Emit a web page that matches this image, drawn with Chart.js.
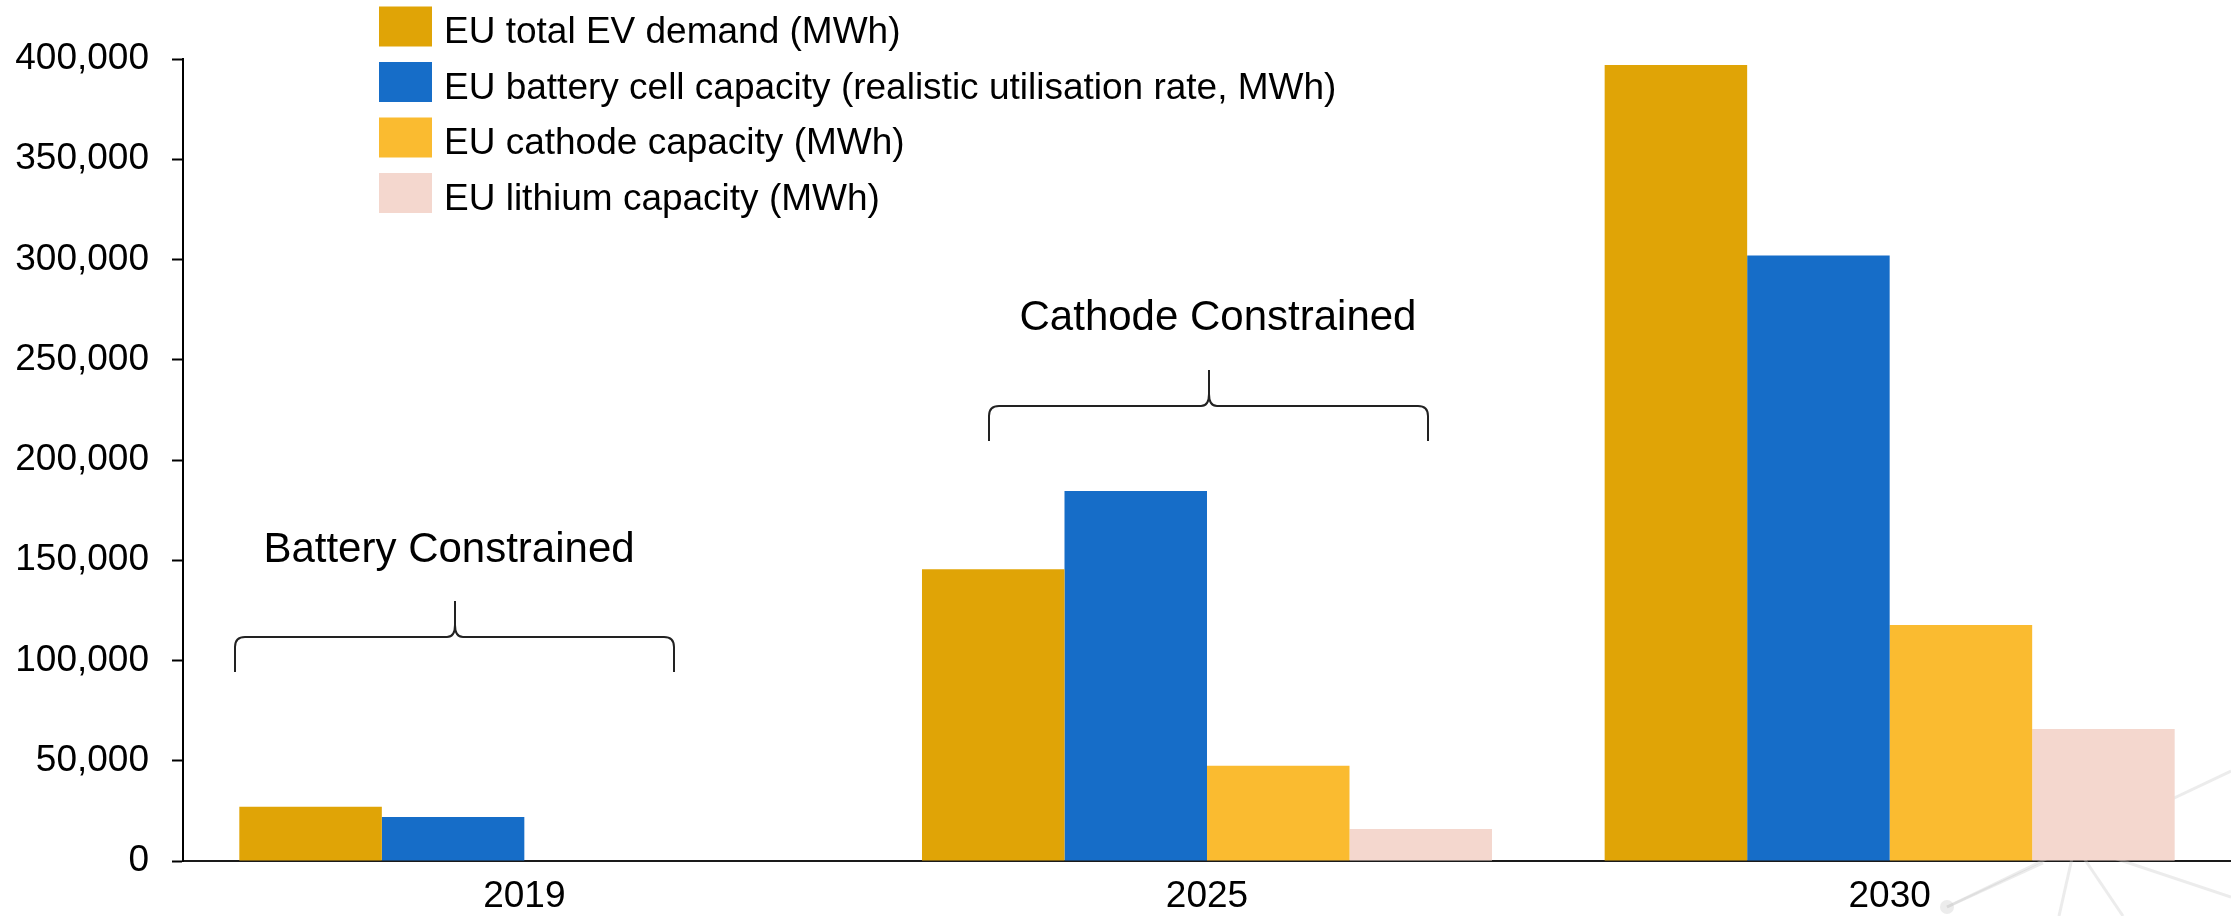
<!DOCTYPE html>
<html>
<head>
<meta charset="utf-8">
<script src="https://cdn.jsdelivr.net/npm/chart.js@4.4.0/dist/chart.umd.min.js"></script>
<style>
  html, body { margin: 0; padding: 0; background: #ffffff; }
  #wrap { position: relative; width: 2231px; height: 916px; }
  canvas { display: block; }
</style>
</head>
<body>
<div id="wrap"><canvas id="c" width="2231" height="916"></canvas></div>
<script>
// ---- Data ----
const categories = ['2019', '2025', '2030'];
const evDemand = [27000, 145500, 397000];
const batteryCellCapacity = [22000, 184500, 302000];
const cathodeCapacity = [null, 47500, 117700];
const lithiumCapacity = [null, 16000, 65800];
const seriesLabels = [
  'EU total EV demand (MWh)',
  'EU battery cell capacity (realistic utilisation rate, MWh)',
  'EU cathode capacity (MWh)',
  'EU lithium capacity (MWh)'
];
const seriesColors = ['#E0A406', '#166DC8', '#FABB30', '#F4D7CE'];
const annotationTexts = ['Battery Constrained', 'Cathode Constrained'];

const FONT = "'Liberation Sans', Arial, Helvetica, sans-serif";

// ---- Watermark (faint network graphic behind the bars) ----
const watermarkPlugin = {
  id: 'watermark',
  beforeDatasetsDraw(chart) {
    const ctx = chart.ctx;
    ctx.save();
    ctx.strokeStyle = 'rgba(200,200,200,0.35)';
    ctx.lineWidth = 3;
    const hub = [2075, 845];
    const ends = [[1947, 907], [2059, 916], [2123, 916], [2231, 897], [2231, 771]];
    ends.forEach(e => {
      ctx.beginPath();
      ctx.moveTo(hub[0], hub[1]);
      ctx.lineTo(e[0], e[1]);
      ctx.stroke();
    });
    ctx.beginPath();
    ctx.moveTo(1947, 907);
    ctx.lineTo(2043, 863);
    ctx.stroke();
    ctx.fillStyle = 'rgba(200,200,200,0.35)';
    ctx.beginPath();
    ctx.arc(1947, 907, 7, 0, Math.PI * 2);
    ctx.fill();
    ctx.restore();
  }
};

// ---- Legend (vertical list, drawn on the canvas) ----
const legendPlugin = {
  id: 'customLegend',
  afterDraw(chart) {
    const ctx = chart.ctx;
    ctx.save();
    const boxX = 379, boxW = 53, boxH = 40, top0 = 6.5, step = 55.5, textX = 444;
    ctx.font = '37px ' + FONT;
    ctx.textAlign = 'left';
    ctx.textBaseline = 'alphabetic';
    chart.data.datasets.forEach((ds, i) => {
      const y = top0 + i * step;
      ctx.fillStyle = ds.backgroundColor;
      ctx.fillRect(boxX, y, boxW, boxH);
      ctx.fillStyle = '#000';
      ctx.fillText(ds.label, textX, y + 36.5);
    });
    ctx.restore();
  }
};

// ---- Braces + annotation text ----
function drawBrace(ctx, L, R, C, H, tipY, peakY) {
  ctx.beginPath();
  ctx.moveTo(L, tipY);
  ctx.lineTo(L, H + 10);
  ctx.quadraticCurveTo(L, H, L + 10, H);
  ctx.lineTo(C - 8, H);
  ctx.quadraticCurveTo(C, H, C, H - 12);
  ctx.lineTo(C, peakY);
  ctx.moveTo(C, H - 12);
  ctx.quadraticCurveTo(C, H, C + 8, H);
  ctx.lineTo(R - 10, H);
  ctx.quadraticCurveTo(R, H, R, H + 10);
  ctx.lineTo(R, tipY);
  ctx.stroke();
}
const bracePlugin = {
  id: 'braces',
  afterDraw(chart) {
    const ctx = chart.ctx;
    ctx.save();
    ctx.strokeStyle = '#222';
    ctx.lineWidth = 2;
    drawBrace(ctx, 235, 674, 455, 637, 672, 601);
    drawBrace(ctx, 989, 1428, 1209, 406, 441, 370);
    ctx.fillStyle = '#000';
    ctx.font = '42px ' + FONT;
    ctx.textAlign = 'center';
    ctx.textBaseline = 'alphabetic';
    ctx.fillText(annotationTexts[0], 449, 562);
    ctx.fillText(annotationTexts[1], 1218, 330);
    ctx.restore();
  }
};

const datasets = [evDemand, batteryCellCapacity, cathodeCapacity, lithiumCapacity].map((d, i) => ({
  label: seriesLabels[i],
  data: d,
  backgroundColor: seriesColors[i],
  borderWidth: 0,
  categoryPercentage: 0.835,
  barPercentage: 1.0
}));

new Chart(document.getElementById('c'), {
  type: 'bar',
  data: { labels: categories, datasets },
  options: {
    responsive: false,
    animation: false,
    devicePixelRatio: 1,
    layout: { padding: { top: 59, right: -4, bottom: 0, left: 0 } },
    plugins: {
      legend: { display: false },
      tooltip: { enabled: false },
      title: { display: false }
    },
    scales: {
      x: {
        grid: { display: false, drawTicks: false },
        border: { display: true, color: '#1a1a1a', width: 2 },
        ticks: { color: '#000', font: { family: FONT, size: 37 }, padding: 14, maxRotation: 0 },
        afterFit(scale) { scale.height = 55; }
      },
      y: {
        min: 0,
        max: 400000,
        grid: { display: true, drawOnChartArea: false, drawTicks: true, tickLength: 11, color: '#000', tickWidth: 2 },
        border: { display: true, color: '#000', width: 2 },
        ticks: {
          stepSize: 50000,
          color: '#000',
          padding: 23,
          font: { family: FONT, size: 37 },
          callback: v => Number(v).toLocaleString('en-US')
        },
        afterFit(scale) { scale.width = 183; }
      }
    }
  },
  plugins: [watermarkPlugin, legendPlugin, bracePlugin]
});
</script>
</body>
</html>
